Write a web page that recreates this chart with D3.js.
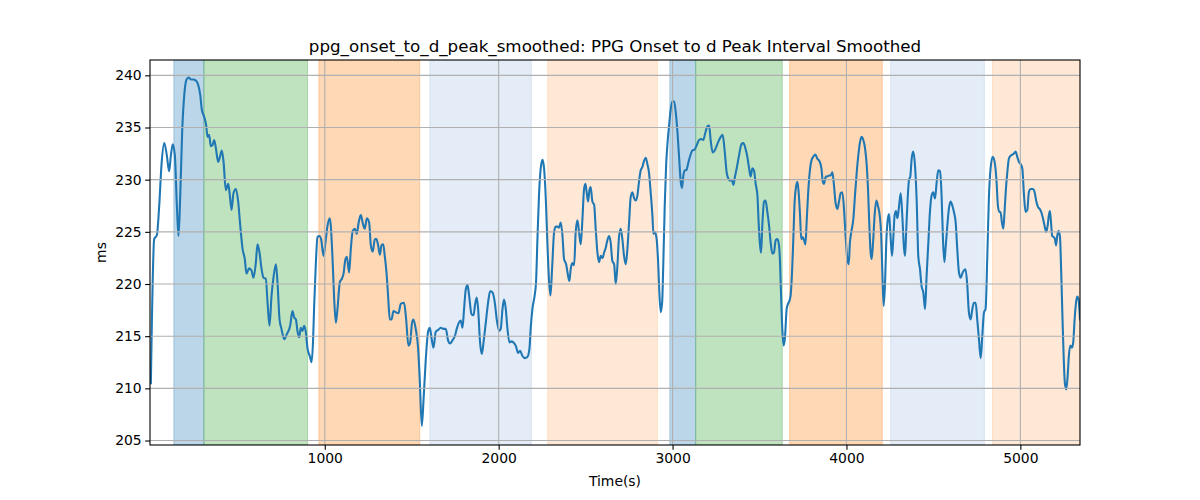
<!DOCTYPE html>
<html><head><meta charset="utf-8">
<script src="https://cdn.jsdelivr.net/npm/d3@7"></script>
<style>body{margin:0;background:#fff}text{font-family:"DejaVu Sans",sans-serif}</style>
</head><body><svg id="chart" width="1200" height="500"></svg>
<script>
const timeS = [0,19,34.5,48,61,77,92,105,115,126,138,149.5,159,169,180,192,205,217,230,243,259,272,284,293,307,318,326,335,345,354,364,374,387,399,408,418,431,445,454,464,475,489,502,514,527,540,550,565,579,590,604,613,625,636,648,661,671,682,694,705,719,728,740,751,767,782,801,814,824,834,843,853,862,872,881,891,901,914,924,933,939,949,958,968,979,993,1004,1016,1029,
1044,1054,1064,1073,1087,1098,1108,1119,1127,1140,1150,1161,1173,1184,1194,1207,1219,1230,1242,1255,1265,1276,1288,1297,1307,1317,1326,1336,1345,1355,1364,1374,1384,1395,1408,1424,1437,1456,1468,1481,1491,1502,1510,1523,1537,1546,1558,1568,1581,1594,1604,1615,1625,1638,1652,1667,1683,1696,1709,1721,1734,1748,1759,1771,1782,1792,1801,1811,1821,1830,1844,1855,1865,1874,1882,1893,1903,1913,1926,1939,1951,1964,1978,1989,2003,2012,2022,2031,2041,2050,2062,2073,2085,2098,2112,2123,2137,2150,2165,2177,
2184,2194,2207,2215,2223,2232,2242,2252,2261,2271,2280,2290,2298,2307,2319,2328,2338,2347,2357,2367,2376,2388,2399,2407,2414,2424,2434,2443,2453,2462,2472,2482,2491,2499,2506,2514,2522,2529,2539,2549,2558,2568,2577,2587,2597,2606,2616,2625,2635,2644,2654,2664,2673,2683,2692,2702,2712,2721,2731,2740,2750,2759,2769,2779,2788,2798,2807,2817,2826,2836,2846,2855,2865,2874,2884,2890,2897,2907,2917,2924,2932,2940,2947,2955,2963,2970,2980,2989,2999,3009,3018,3028,3037,3047,3054,3062,3070,3079,3089,3100,3114,3127,3139,3152,3166,3177,3187,3200,3210,3219,3231,
3248,3262,3277,3288,3300,3311,3321,3330,3340,3350,3359,3369,3382,3396,3407,3419,3430,3440,3449,3459,3468,3478,3488,3495,3503,3509,3516,3526,3535,3545,3555,3564,3574,3583,3593,3603,3612,3618,3624,3631,3639,3647,3656,3664,3672,3679,3687,3695,3702,3710,3718,3725,3733,3740,3748,3756,3764,3771,3779,3788,3798,3809,3821,3833,3844,3856,3863,3871,3881,3890,3900,3909,3919,3928,3938,3948,3957,3967,3976,3986,3995,4005,4013,4020,4028,4040,4049,4059,4068,4078,4087,4097,4107,4116,4124,4131,4139,4145,4153,4162,4172,4181,4191,4200,4206,4214,4222,4229,4237,4245,4252,4262,4270,4277,4285,4293,4302,
4312,4321,4331,4337,4344,4352,4360,4367,4375,4384,4394,4404,4413,4423,4432,4442,4452,4461,4471,4480,4490,4499,4509,4519,4528,4538,4547,4555,4563,4570,4580,4589,4599,4609,4618,4628,4637,4647,4657,4666,4676,4685,4695,4704,4714,4724,4733,4743,4752,4762,4772,4781,4791,4800,4810,4819,4829,4841,4852,4862,4871,4879,4886,4894,4902,4909,4917,4925,4934,4944,4954,4963,4973,4982,4992,5001,5011,5021,5030,5040,5049,5059,5072,5082,5092,5101,5111,5120,5130,5139,5149,5157,5164,5170,5176,5183,5191,5199,5205,5212,5220,5228,5235,5243,5249,5256,5264,5272,5279,5287,5297,5304,5312,5320,5327,5335,5343];
const valueMs = [210.5,224.3,224.7,227.5,231.4,233.5,232.3,230.8,232.3,233.4,232.3,227.5,224.6,228.5,234.6,238.1,239.6,239.8,239.6,239.6,239.5,239.1,238.1,236.7,236.0,235.2,234.1,234.3,233.2,233.3,233.8,233.0,231.7,232.3,232.8,231.7,229.0,229.6,228.5,227.1,228.7,229.1,227.9,225.6,223.4,222.4,221.0,221.5,221.3,220.6,222.1,223.8,223.0,221.5,220.6,220.5,218.2,216.0,218.9,220.6,221.9,220.2,216.6,215.7,214.7,215.2,216.0,217.4,216.8,216.6,215.5,214.9,215.8,215.5,216.0,215.4,213.8,213.1,212.5,214.7,217.9,222.1,224.5,224.6,224.3,222.7,224.0,225.6,226.3,
222.7,218.6,216.3,217.6,220.2,220.5,221.0,222.4,222.6,221.1,223.4,225.1,225.3,224.8,225.8,226.6,225.8,225.3,226.3,225.9,223.7,223.1,224.3,224.3,223.7,222.8,223.7,223.8,222.7,221.1,218.9,216.6,216.6,217.4,217.3,217.2,218.1,218.2,216.6,214.1,214.4,216.3,216.6,215.7,213.8,210.9,206.4,208.9,212.8,215.4,215.8,214.7,213.9,215.4,215.6,215.8,215.7,215.7,214.6,214.3,214.6,215.0,215.7,216.3,216.5,215.8,217.6,219.5,219.9,218.9,217.1,217.0,218.1,218.7,217.6,214.4,213.3,214.4,216.3,218.2,219.3,219.2,218.2,216.6,215.5,215.7,217.6,218.5,217.6,215.8,214.4,214.5,214.4,214.1,213.4,213.6,213.1,212.9,213.0,213.8,
215.7,217.6,218.9,220.2,224.3,228.5,231.1,231.9,231.1,228.2,224.0,220.2,218.9,221.4,225.0,225.5,225.5,225.4,225.9,224.6,222.4,221.9,220.8,220.3,221.4,222.0,221.8,225.0,226.1,225.0,223.8,226.3,229.1,229.6,228.8,227.9,229.0,229.3,227.9,227.6,225.3,223.0,222.1,222.7,222.5,223.0,223.5,224.2,224.6,224.0,222.2,221.9,220.0,221.8,224.5,225.3,224.2,222.7,221.9,223.3,225.9,228.3,228.8,228.2,228.0,228.5,229.8,230.9,231.2,231.8,232.1,231.5,230.6,228.8,226.6,224.8,225.0,224.5,222.1,219.2,217.3,218.2,222.1,227.5,231.4,233.3,235.2,236.7,237.5,237.5,236.5,234.6,232.3,229.8,229.2,230.4,230.9,230.9,231.5,232.2,232.8,232.9,233.3,233.8,233.9,233.8,234.4,235.1,235.2,233.8,232.6,
233.0,233.6,234.1,234.3,232.7,230.7,230.1,229.9,230.0,229.5,230.3,231.1,232.3,233.4,233.5,233.0,232.2,231.1,230.3,231.1,230.9,229.6,228.5,225.9,223.7,223.0,225.6,227.9,228.0,226.9,225.6,224.0,222.9,223.0,224.2,224.3,223.7,222.1,218.9,215.7,214.1,215.0,217.6,218.1,218.4,218.9,221.1,224.6,227.9,229.3,229.8,228.8,226.6,224.3,224.5,224.2,223.8,225.9,228.5,230.6,231.8,232.2,232.4,232.0,231.8,231.1,229.9,229.6,230.3,230.3,230.4,230.4,230.7,229.5,227.7,227.2,227.9,228.7,228.8,227.2,224.6,222.4,221.9,224.0,225.0,226.3,228.5,230.7,232.3,233.6,234.1,233.8,233.0,231.5,229.1,225.9,223.0,222.4,224.0,226.6,228.0,227.5,226.6,224.6,221.4,217.9,220.1,224.0,226.1,226.7,225.0,222.7,224.6,226.6,227.0,226.3,227.4,
228.7,226.6,223.4,222.7,225.3,228.2,230.0,230.3,232.0,232.7,231.4,227.9,222.7,221.4,219.8,219.2,217.6,220.8,224.0,226.9,228.5,228.8,228.2,229.8,230.9,230.8,228.5,224.3,222.1,223.4,225.6,227.2,227.9,227.5,226.9,225.9,223.4,221.1,220.6,221.0,221.3,221.4,219.8,217.3,216.6,217.6,218.2,218.2,216.6,214.7,212.9,215.0,217.3,217.6,222.7,228.2,231.1,232.2,231.7,230.1,227.5,226.9,226.9,225.9,225.3,226.9,229.1,230.7,232.0,232.3,232.4,232.5,232.7,232.2,231.7,231.5,231.1,228.5,226.9,227.1,228.8,229.1,229.1,228.8,227.9,227.4,227.2,226.9,226.3,225.6,225.0,225.6,226.6,227.0,226.0,224.6,224.5,224.3,223.7,224.6,225.1,224.5,221.1,216.3,213.1,210.5,209.9,211.2,213.1,214.1,213.9,214.4,216.6,218.2,218.8,218.5,216.6];

const spanStart = [132, 305, 966, 1604, 2282, 2984, 3133, 3673, 4254, 4840];
const spanEnd   = [305, 901, 1546, 2188, 2913, 3133, 3631, 4206, 4793, 5343];
const spanKind  = ["blue","green","orange","lightblue","lightorange","blue","green","orange","lightblue","lightorange"];
const yTickValues = [205, 210, 215, 220, 225, 230, 235, 240];
const xTickValues = [1000, 2000, 3000, 4000, 5000];
const titleText = "ppg_onset_to_d_peak_smoothed: PPG Onset to d Peak Interval Smoothed";
const xLabelText = "Time(s)";
const yLabelText = "ms";

const spanFill = {
  blue: "rgba(31,119,180,0.3)",
  green: "rgba(44,160,44,0.3)",
  orange: "rgba(255,127,14,0.3)",
  lightblue: "rgba(31,100,190,0.12)",
  lightorange: "rgba(255,127,14,0.17)"
};

const L = 150, R = 1080, T = 60, B = 445;
const svg = d3.select("#chart");
const x = d3.scaleLinear().domain([-5, 5343]).range([L, R]);
const y = d3.scaleLinear().domain([204.57, 241.47]).range([B, T]);

svg.append("defs").append("clipPath").attr("id", "clip")
  .append("rect").attr("x", L).attr("y", T).attr("width", R - L).attr("height", B - T);

const plot = svg.append("g").attr("clip-path", "url(#clip)");

// spans
plot.selectAll("rect.span").data(spanStart.map((s, i) => ({s, e: spanEnd[i], k: spanKind[i]})))
  .enter().append("rect").attr("class", "span")
  .attr("x", d => x(d.s)).attr("width", d => x(d.e) - x(d.s))
  .attr("y", T).attr("height", B - T)
  .attr("fill", d => spanFill[d.k])
  .attr("stroke", d => spanFill[d.k]).attr("stroke-width", 1);

// grid
const grid = svg.append("g");
grid.selectAll("line.gx").data(xTickValues).enter().append("line")
  .attr("x1", d => x(d)).attr("x2", d => x(d)).attr("y1", T).attr("y2", B)
  .attr("stroke", "#b0b0b0").attr("stroke-width", 1.1);
grid.selectAll("line.gy").data(yTickValues).enter().append("line")
  .attr("y1", d => y(d)).attr("y2", d => y(d)).attr("x1", L).attr("x2", R)
  .attr("stroke", "#b0b0b0").attr("stroke-width", 1.1);

// line
const data = timeS.map((t, i) => [t, valueMs[i]]);
plot.append("path").datum(data)
  .attr("fill", "none").attr("stroke", "#1f77b4").attr("stroke-width", 2.08)
  .attr("stroke-linejoin", "round").attr("stroke-linecap", "square")
  .attr("d", d3.line().x(d => x(d[0])).y(d => y(d[1])).curve(d3.curveMonotoneX));

// axes
const xAxis = d3.axisBottom(x).tickValues(xTickValues).tickSize(4.86).tickPadding(3.5).tickFormat(d3.format("d"));
const yAxis = d3.axisLeft(y).tickValues(yTickValues).tickSize(4.86).tickPadding(3.5).tickFormat(d3.format("d"));
const gx = svg.append("g").attr("transform", `translate(0,${B})`).call(xAxis);
const gy = svg.append("g").attr("transform", `translate(${L},0)`).call(yAxis);
[gx, gy].forEach(g => {
  g.select(".domain").remove();
  g.selectAll(".tick line").attr("stroke", "#000").attr("stroke-width", 1.1);
  g.selectAll(".tick text").attr("fill", "#000").style("font-size", "13.9px").style("font-family", "DejaVu Sans");
});

// frame
svg.append("rect").attr("x", L).attr("y", T).attr("width", R - L).attr("height", B - T)
  .attr("fill", "none").attr("stroke", "#000").attr("stroke-width", 1.1);

svg.append("text").attr("x", (L + R) / 2).attr("y", 52).attr("text-anchor", "middle")
  .style("font-size", "16.7px").text(titleText);
svg.append("text").attr("x", (L + R) / 2).attr("y", 486).attr("text-anchor", "middle")
  .style("font-size", "13.9px").text(xLabelText);
svg.append("text").attr("transform", `translate(106,${(T + B) / 2}) rotate(-90)`).attr("text-anchor", "middle")
  .style("font-size", "13.9px").text(yLabelText);
</script>
</body></html>
